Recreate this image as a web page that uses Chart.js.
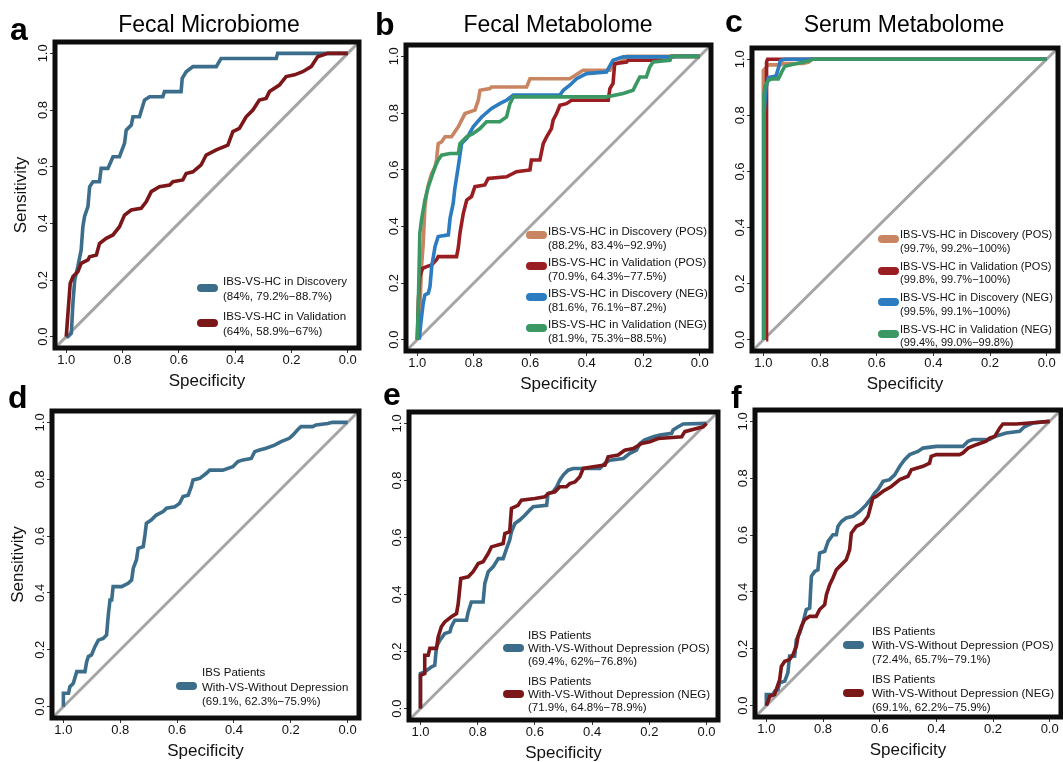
<!DOCTYPE html>
<html lang="en">
<head>
<meta charset="UTF-8">
<title>ROC curves</title>
<script src="https://cdn.jsdelivr.net/npm/chart.js"></script>
<style>
  body { margin: 0; background: #fff; font-family: 'Liberation Sans', Arial, sans-serif; }
  #fig { position: relative; width: 1063px; height: 762px; overflow: hidden; }
  canvas { position: absolute; }
  .letter { position: absolute; font-weight: bold; font-size: 32px; line-height: 1; color: #000; }
  .ptitle { position: absolute; font-size: 23px; line-height: 1; color: #000; white-space: nowrap; transform: translateX(-50%); }
  .legend { position: absolute; font-size: 11.5px; color: #111; white-space: nowrap; }
  .entry { position: relative; }
  .entry .sw { position: absolute; left: 0; width: 21px; height: 8px; border-radius: 4px; }
</style>
</head>
<body>
<div id="fig"></div>
<script>
const FONT = "'Liberation Sans', Arial, sans-serif";
const tickVals = [0, 0.2, 0.4, 0.6, 0.8, 1.0];
const diagSpec = [1.04, -0.04];
const diagSens = [-0.04, 1.04];

// a: fecal microbiome
const aDiscSpec = [1.0, 0.994, 0.982, 0.976, 0.970, 0.959, 0.947, 0.941, 0.935, 0.923, 0.917, 0.905, 0.882, 0.876, 0.852, 0.834, 0.811, 0.793, 0.787, 0.769, 0.763, 0.740, 0.722, 0.704, 0.657, 0.651, 0.592, 0.588, 0.574, 0.550, 0.467, 0.450, 0.254, 0.249, 0.0];
const aDiscSens = [0, 0, 0.012, 0.124, 0.2, 0.247, 0.306, 0.388, 0.424, 0.459, 0.529, 0.547, 0.547, 0.594, 0.594, 0.635, 0.635, 0.682, 0.729, 0.747, 0.776, 0.776, 0.835, 0.847, 0.847, 0.865, 0.865, 0.912, 0.935, 0.953, 0.953, 0.982, 0.982, 1.0, 1.0];
const aValSpec = [1.0, 0.994, 0.986, 0.976, 0.959, 0.947, 0.923, 0.917, 0.893, 0.882, 0.858, 0.834, 0.811, 0.793, 0.769, 0.734, 0.716, 0.698, 0.669, 0.633, 0.621, 0.586, 0.574, 0.550, 0.521, 0.503, 0.467, 0.426, 0.408, 0.385, 0.361, 0.337, 0.314, 0.290, 0.278, 0.243, 0.219, 0.189, 0.160, 0.130, 0.107, 0.071, 0.0];
const aValSens = [0, 0.082, 0.188, 0.212, 0.229, 0.259, 0.271, 0.282, 0.288, 0.329, 0.347, 0.359, 0.388, 0.429, 0.447, 0.453, 0.476, 0.512, 0.529, 0.535, 0.547, 0.553, 0.576, 0.582, 0.606, 0.641, 0.659, 0.676, 0.724, 0.735, 0.776, 0.8, 0.835, 0.841, 0.865, 0.888, 0.918, 0.924, 0.935, 0.953, 0.988, 1.0, 1.0];

// b: fecal metabolome
const bDiscPosSpec = [1.0, 0.991, 0.985, 0.979, 0.973, 0.967, 0.961, 0.949, 0.937, 0.932, 0.926, 0.914, 0.902, 0.879, 0.867, 0.855, 0.843, 0.831, 0.796, 0.784, 0.778, 0.743, 0.737, 0.613, 0.601, 0.460, 0.413, 0.318, 0.307, 0.271, 0.259, 0.0];
const bDiscPosSens = [0, 0.106, 0.258, 0.340, 0.469, 0.516, 0.546, 0.587, 0.610, 0.634, 0.692, 0.698, 0.716, 0.716, 0.734, 0.751, 0.775, 0.798, 0.810, 0.845, 0.880, 0.886, 0.892, 0.892, 0.921, 0.921, 0.951, 0.951, 0.968, 0.986, 1.0, 1.0];
const bValPosSpec = [1.0, 0.996, 0.991, 0.981, 0.967, 0.949, 0.932, 0.926, 0.861, 0.855, 0.849, 0.837, 0.825, 0.808, 0.796, 0.761, 0.749, 0.684, 0.649, 0.601, 0.596, 0.566, 0.554, 0.542, 0.525, 0.519, 0.507, 0.495, 0.472, 0.454, 0.324, 0.318, 0.307, 0.301, 0.259, 0.254, 0.106, 0.100, 0.0];
const bValPosSens = [0, 0.141, 0.223, 0.252, 0.258, 0.264, 0.282, 0.293, 0.293, 0.323, 0.376, 0.446, 0.493, 0.505, 0.540, 0.546, 0.569, 0.575, 0.593, 0.599, 0.634, 0.634, 0.692, 0.716, 0.745, 0.775, 0.798, 0.827, 0.833, 0.845, 0.845, 0.886, 0.904, 0.974, 0.980, 0.986, 0.986, 1.0, 1.0];
const bDiscNegSpec = [0.993, 0.988, 0.979, 0.973, 0.961, 0.955, 0.949, 0.937, 0.926, 0.890, 0.884, 0.873, 0.867, 0.855, 0.843, 0.825, 0.802, 0.772, 0.737, 0.708, 0.696, 0.684, 0.660, 0.495, 0.483, 0.460, 0.436, 0.401, 0.330, 0.307, 0.271, 0.094, 0.083, 0.0];
const bDiscNegSens = [0, 0.053, 0.129, 0.158, 0.164, 0.188, 0.258, 0.329, 0.364, 0.370, 0.428, 0.481, 0.534, 0.610, 0.692, 0.710, 0.751, 0.786, 0.816, 0.833, 0.839, 0.845, 0.863, 0.863, 0.880, 0.898, 0.921, 0.939, 0.945, 0.986, 0.998, 0.998, 1.0, 1.0];
const bValNegSpec = [1.0, 0.996, 0.991, 0.985, 0.973, 0.961, 0.949, 0.937, 0.926, 0.914, 0.884, 0.855, 0.849, 0.825, 0.802, 0.778, 0.755, 0.708, 0.684, 0.672, 0.660, 0.330, 0.271, 0.236, 0.224, 0.212, 0.189, 0.177, 0.165, 0.106, 0.100, 0.0];
const bValNegSens = [0, 0.141, 0.376, 0.423, 0.493, 0.540, 0.575, 0.610, 0.634, 0.651, 0.657, 0.657, 0.692, 0.716, 0.728, 0.745, 0.769, 0.769, 0.786, 0.833, 0.857, 0.857, 0.869, 0.880, 0.904, 0.927, 0.927, 0.962, 0.980, 0.986, 1.0, 1.0];

// c: serum metabolome
const cDiscPosSpec = [1.0, 1.0, 0.99, 0.985, 0.94, 0.93, 0.86, 0.84, 0.83, 0.0];
const cDiscPosSens = [0, 0.96, 0.97, 0.98, 0.98, 0.985, 0.985, 0.99, 1.0, 1.0];
const cValPosSpec = [0.99, 0.99, 0.988, 0.988, 0.985, 0.0];
const cValPosSens = [0, 0.85, 0.9, 0.99, 1.0, 1.0];
const cDiscNegSpec = [0.998, 0.998, 0.99, 0.982, 0.955, 0.945, 0.94, 0.925, 0.0];
const cDiscNegSens = [0, 0.8, 0.9, 0.935, 0.94, 0.975, 0.995, 1.0, 1.0];
const cValNegSpec = [0.998, 0.998, 0.994, 0.982, 0.97, 0.947, 0.935, 0.924, 0.894, 0.865, 0.835, 0.824, 0.0];
const cValNegSens = [0, 0.87, 0.905, 0.925, 0.93, 0.93, 0.955, 0.975, 0.982, 0.988, 0.995, 1.0, 1.0];

// d: depression, fecal microbiome
const dSpec = [1.0, 1.0, 0.982, 0.977, 0.965, 0.953, 0.924, 0.918, 0.912, 0.901, 0.889, 0.877, 0.860, 0.848, 0.842, 0.836, 0.830, 0.825, 0.795, 0.772, 0.760, 0.754, 0.743, 0.737, 0.719, 0.713, 0.708, 0.690, 0.673, 0.649, 0.637, 0.608, 0.591, 0.579, 0.561, 0.550, 0.544, 0.520, 0.497, 0.485, 0.439, 0.404, 0.386, 0.368, 0.339, 0.327, 0.310, 0.287, 0.257, 0.234, 0.205, 0.193, 0.175, 0.164, 0.123, 0.111, 0.070, 0.053, 0.0];
const dSens = [0, 0.047, 0.047, 0.070, 0.082, 0.123, 0.123, 0.158, 0.176, 0.182, 0.211, 0.234, 0.240, 0.252, 0.322, 0.375, 0.375, 0.422, 0.422, 0.434, 0.445, 0.487, 0.516, 0.557, 0.563, 0.604, 0.645, 0.657, 0.674, 0.686, 0.698, 0.703, 0.715, 0.739, 0.744, 0.774, 0.797, 0.803, 0.821, 0.832, 0.832, 0.844, 0.862, 0.868, 0.873, 0.897, 0.903, 0.909, 0.920, 0.932, 0.944, 0.955, 0.975, 0.985, 0.985, 0.991, 0.996, 1.0, 1.0];

// e: depression, fecal metabolome
const ePosSpec = [1.0, 1.0, 0.985, 0.962, 0.950, 0.944, 0.932, 0.915, 0.897, 0.892, 0.880, 0.839, 0.833, 0.822, 0.781, 0.775, 0.763, 0.746, 0.728, 0.711, 0.699, 0.688, 0.682, 0.670, 0.653, 0.635, 0.618, 0.606, 0.559, 0.554, 0.536, 0.524, 0.513, 0.501, 0.484, 0.466, 0.373, 0.356, 0.338, 0.291, 0.268, 0.245, 0.233, 0.216, 0.186, 0.163, 0.122, 0.117, 0.099, 0.082, 0.0];
const ePosSens = [0, 0.123, 0.129, 0.146, 0.152, 0.216, 0.240, 0.263, 0.269, 0.287, 0.310, 0.310, 0.339, 0.374, 0.374, 0.439, 0.480, 0.497, 0.526, 0.526, 0.561, 0.591, 0.620, 0.649, 0.661, 0.678, 0.696, 0.708, 0.713, 0.754, 0.760, 0.778, 0.801, 0.819, 0.836, 0.842, 0.842, 0.860, 0.871, 0.877, 0.895, 0.906, 0.930, 0.942, 0.953, 0.959, 0.965, 0.977, 0.988, 0.998, 1.0];
const eNegSpec = [1.0, 1.0, 0.985, 0.985, 0.973, 0.967, 0.944, 0.938, 0.927, 0.915, 0.892, 0.874, 0.868, 0.859, 0.833, 0.816, 0.798, 0.781, 0.763, 0.752, 0.711, 0.705, 0.688, 0.682, 0.659, 0.647, 0.600, 0.565, 0.554, 0.530, 0.513, 0.490, 0.478, 0.460, 0.443, 0.431, 0.396, 0.355, 0.344, 0.309, 0.286, 0.256, 0.227, 0.198, 0.169, 0.087, 0.076, 0.035, 0.012, 0.0];
const eNegSens = [0, 0.117, 0.123, 0.187, 0.187, 0.211, 0.211, 0.251, 0.287, 0.304, 0.322, 0.333, 0.368, 0.456, 0.462, 0.480, 0.509, 0.515, 0.544, 0.567, 0.579, 0.614, 0.620, 0.702, 0.713, 0.731, 0.737, 0.743, 0.754, 0.760, 0.778, 0.778, 0.789, 0.795, 0.813, 0.842, 0.848, 0.854, 0.883, 0.889, 0.906, 0.912, 0.930, 0.936, 0.947, 0.953, 0.971, 0.982, 0.988, 1.0];

// f: depression, serum metabolome
const fPosSpec = [1.0, 1.0, 0.976, 0.971, 0.959, 0.953, 0.935, 0.924, 0.918, 0.900, 0.894, 0.882, 0.871, 0.859, 0.847, 0.841, 0.829, 0.818, 0.812, 0.794, 0.782, 0.765, 0.753, 0.747, 0.735, 0.718, 0.694, 0.671, 0.647, 0.629, 0.618, 0.606, 0.588, 0.565, 0.547, 0.529, 0.512, 0.494, 0.465, 0.447, 0.400, 0.306, 0.288, 0.271, 0.212, 0.194, 0.153, 0.106, 0.088, 0.059, 0.0];
const fPosSens = [0, 0.039, 0.039, 0.050, 0.056, 0.080, 0.086, 0.115, 0.174, 0.174, 0.232, 0.256, 0.291, 0.338, 0.343, 0.455, 0.472, 0.478, 0.537, 0.543, 0.578, 0.601, 0.601, 0.631, 0.648, 0.660, 0.666, 0.683, 0.707, 0.730, 0.748, 0.760, 0.789, 0.795, 0.812, 0.842, 0.865, 0.883, 0.894, 0.906, 0.912, 0.912, 0.930, 0.936, 0.936, 0.947, 0.959, 0.965, 0.982, 0.994, 1.0];
const fNegSpec = [1.0, 0.994, 0.988, 0.971, 0.965, 0.953, 0.947, 0.935, 0.918, 0.906, 0.894, 0.888, 0.876, 0.865, 0.847, 0.824, 0.812, 0.794, 0.788, 0.776, 0.765, 0.753, 0.735, 0.718, 0.706, 0.700, 0.682, 0.659, 0.641, 0.635, 0.624, 0.612, 0.588, 0.559, 0.529, 0.500, 0.488, 0.447, 0.424, 0.418, 0.400, 0.318, 0.306, 0.288, 0.259, 0.224, 0.212, 0.194, 0.176, 0.165, 0.118, 0.071, 0.0];
const fNegSens = [0, 0.015, 0.033, 0.039, 0.056, 0.091, 0.138, 0.156, 0.162, 0.179, 0.209, 0.244, 0.279, 0.302, 0.314, 0.314, 0.338, 0.355, 0.390, 0.426, 0.449, 0.478, 0.496, 0.513, 0.549, 0.607, 0.631, 0.642, 0.666, 0.689, 0.730, 0.736, 0.754, 0.771, 0.795, 0.807, 0.830, 0.842, 0.853, 0.877, 0.883, 0.883, 0.889, 0.906, 0.918, 0.930, 0.941, 0.947, 0.977, 0.991, 0.991, 0.994, 1.0];

const C = { teal: '#3c6e8c', wine: '#7b1619', tan: '#c98561', red: '#9a1d22', blue: '#2b7cc0', green: '#3a9863', diag: '#a5a5a5' };

const panels = [
  { letter: 'a', lx: 10, ly: 13, title: 'Fecal Microbiome', tx: 209, area: [55, 42, 304, 306], yTitle: true,
    legend: { x: 197, top: 273.5, lh: 15, gap: 5, textX: 26, sw: 14.5, fs: 11.5 },
    series: [
      { spec: aDiscSpec, sens: aDiscSens, color: C.teal, label: ['IBS-VS-HC in Discovery', '(84%, 79.2%\u221288.7%)'] },
      { spec: aValSpec, sens: aValSens, color: C.wine, label: ['IBS-VS-HC in Validation', '(64%, 58.9%\u221267%)'] } ] },
  { letter: 'b', lx: 375, ly: 8, title: 'Fecal Metabolome', tx: 558, area: [406, 45, 305, 306], yTitle: false,
    legend: { x: 526, top: 225, lh: 13.5, gap: 4, textX: 22, sw: 10, fs: 11.5 },
    series: [
      { spec: bDiscPosSpec, sens: bDiscPosSens, color: C.tan, label: ['IBS-VS-HC in Discovery (POS)', '(88.2%, 83.4%\u221292.9%)'] },
      { spec: bValPosSpec, sens: bValPosSens, color: C.red, label: ['IBS-VS-HC in Validation (POS)', '(70.9%, 64.3%\u221277.5%)'] },
      { spec: bDiscNegSpec, sens: bDiscNegSens, color: C.blue, label: ['IBS-VS-HC in Discovery (NEG)', '(81.6%, 76.1%\u221287.2%)'] },
      { spec: bValNegSpec, sens: bValNegSens, color: C.green, label: ['IBS-VS-HC in Validation (NEG)', '(81.9%, 75.3%\u221288.5%)'] } ] },
  { letter: 'c', lx: 725, ly: 5, title: 'Serum Metabolome', tx: 904, area: [752, 48, 306, 303], yTitle: false,
    legend: { x: 878, top: 228, lh: 13.5, gap: 4.5, textX: 22, sw: 11, fs: 11 },
    series: [
      { spec: cDiscPosSpec, sens: cDiscPosSens, color: C.tan, label: ['IBS-VS-HC in Discovery (POS)', '(99.7%, 99.2%\u2212100%)'] },
      { spec: cValPosSpec, sens: cValPosSens, color: C.red, label: ['IBS-VS-HC in Validation (POS)', '(99.8%, 99.7%\u2212100%)'] },
      { spec: cDiscNegSpec, sens: cDiscNegSens, color: C.blue, label: ['IBS-VS-HC in Discovery (NEG)', '(99.5%, 99.1%\u2212100%)'] },
      { spec: cValNegSpec, sens: cValNegSens, color: C.green, label: ['IBS-VS-HC in Validation (NEG)', '(99.4%, 99.0%\u221299.8%)'] } ] },
  { letter: 'd', lx: 8, ly: 381, title: '', area: [52, 411, 307, 307], yTitle: true,
    legend: { x: 176, top: 665, lh: 14.5, gap: 0, textX: 26, sw: 21, fs: 11.5 },
    series: [
      { spec: dSpec, sens: dSens, color: C.teal, label: ['IBS Patients', 'With-VS-Without Depression', '(69.1%, 62.3%\u221275.9%)'] } ] },
  { letter: 'e', lx: 383, ly: 378, title: '', area: [409, 412, 309, 308], yTitle: false,
    legend: { x: 503, top: 628.5, lh: 13, gap: 7, textX: 25, sw: 19.5, fs: 11.5 },
    series: [
      { spec: ePosSpec, sens: ePosSens, color: C.teal, label: ['IBS Patients', 'With-VS-Without Depression (POS)', '(69.4%, 62%\u221276.8%)'] },
      { spec: eNegSpec, sens: eNegSens, color: C.wine, label: ['IBS Patients', 'With-VS-Without Depression (NEG)', '(71.9%, 64.8%\u221278.9%)'] } ] },
  { letter: 'f', lx: 731, ly: 381, title: '', area: [755, 410, 306, 307], yTitle: false,
    legend: { x: 843, top: 624, lh: 14, gap: 6, textX: 29, sw: 21, fs: 11.5 },
    series: [
      { spec: fPosSpec, sens: fPosSens, color: C.teal, label: ['IBS Patients', 'With-VS-Without Depression (POS)', '(72.4%, 65.7%\u221279.1%)'] },
      { spec: fNegSpec, sens: fNegSens, color: C.wine, label: ['IBS Patients', 'With-VS-Without Depression (NEG)', '(69.1%, 62.2%\u221275.9%)'] } ] }
];

const framePlugin = {
  id: 'frame',
  afterDatasetsDraw(chart) {
    const { ctx, chartArea: a } = chart;
    ctx.save();
    ctx.lineWidth = 5;
    ctx.strokeStyle = '#0d0d0d';
    ctx.strokeRect(a.left, a.top, a.right - a.left, a.bottom - a.top);
    ctx.restore();
  }
};

const fig = document.getElementById('fig');
const PADL = 56, PADT = 8, PADR = 6, PADB = 48;

function axis(extra) {
  return Object.assign({
    type: 'linear', min: -0.04, max: 1.04,
    afterBuildTicks: s => { s.ticks = tickVals.map(v => ({ value: v })); },
    grid: { drawOnChartArea: false, drawTicks: true, tickLength: 5, color: '#333', lineWidth: 1 },
    border: { display: false }
  }, extra);
}

panels.forEach(p => {
  const [l, t, w, h] = p.area;
  const cv = document.createElement('canvas');
  const W = w + PADL + PADR, H = h + PADT + PADB;
  cv.width = W; cv.height = H;
  cv.style.left = (l - PADL) + 'px'; cv.style.top = (t - PADT) + 'px';
  cv.style.width = W + 'px'; cv.style.height = H + 'px';
  fig.appendChild(cv);

  const datasets = [{
    data: diagSpec.map((s, i) => ({ x: s, y: diagSens[i] })),
    borderColor: C.diag, borderWidth: 3, pointRadius: 0, order: 100
  }];
  p.series.forEach((s, i) => {
    datasets.push({
      data: s.spec.map((v, j) => ({ x: v, y: s.sens[j] })),
      borderColor: s.color, borderWidth: 3.6, pointRadius: 0, tension: 0, order: 10 - i
    });
  });

  new Chart(cv, {
    type: 'line',
    data: { datasets },
    options: {
      responsive: false, animation: false, devicePixelRatio: 1,
      layout: { padding: { left: 0, top: PADT, right: PADR, bottom: 0 } },
      plugins: { legend: { display: false }, tooltip: { enabled: false } },
      scales: {
        x: axis({
          reverse: true,
          afterFit: s => { s.height = PADB; },
          ticks: { font: { size: 13, family: FONT }, color: '#111', padding: 0, maxRotation: 0, autoSkip: false, callback: v => v.toFixed(1) },
          title: { display: true, text: 'Specificity', font: { size: 17, family: FONT }, color: '#111', padding: { top: 0, bottom: 4 } }
        }),
        y: axis({
          afterFit: s => { s.width = PADL; },
          ticks: { font: { size: 13, family: FONT }, color: '#111', padding: -2, minRotation: 90, maxRotation: 90, crossAlign: 'center', autoSkip: false, callback: v => v.toFixed(1) },
          title: { display: p.yTitle, text: 'Sensitivity', font: { size: 17, family: FONT }, color: '#111', padding: { top: 12, bottom: 0 } }
        })
      }
    },
    plugins: [framePlugin]
  });

  const letter = document.createElement('div');
  letter.className = 'letter'; letter.textContent = p.letter;
  letter.style.left = p.lx + 'px'; letter.style.top = p.ly + 'px';
  fig.appendChild(letter);

  if (p.title) {
    const tt = document.createElement('div');
    tt.className = 'ptitle'; tt.textContent = p.title;
    tt.style.left = p.tx + 'px'; tt.style.top = '12.5px';
    fig.appendChild(tt);
  }

  const lg = p.legend;
  const box = document.createElement('div');
  box.className = 'legend';
  box.style.left = lg.x + 'px'; box.style.top = lg.top + 'px';
  box.style.fontSize = lg.fs + 'px';
  p.series.forEach((s, i) => {
    const e = document.createElement('div');
    e.className = 'entry';
    e.style.paddingLeft = lg.textX + 'px';
    e.style.lineHeight = lg.lh + 'px';
    if (i > 0) e.style.marginTop = lg.gap + 'px';
    const sw = document.createElement('div');
    sw.className = 'sw'; sw.style.background = s.color; sw.style.top = (lg.sw - 4) + 'px';
    e.appendChild(sw);
    s.label.forEach(line => {
      const d = document.createElement('div');
      d.textContent = line;
      e.appendChild(d);
    });
    box.appendChild(e);
  });
  fig.appendChild(box);
});
</script>
</body>
</html>
